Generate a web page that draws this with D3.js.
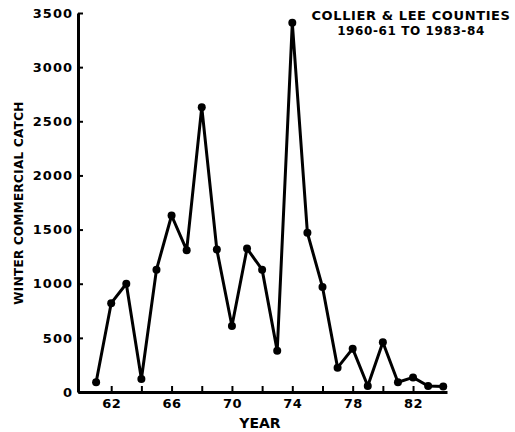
<!DOCTYPE html>
<html>
<head>
<meta charset="utf-8">
<script src="https://cdn.jsdelivr.net/npm/d3@7/dist/d3.min.js"></script>
<style>
  body { margin: 0; background: #fff; }
  svg text { font-family: "DejaVu Sans", sans-serif; font-weight: bold; fill: #000; }
</style>
</head>
<body>
<div id="chart"></div>
<script>
var width = 515,
  height = 432;

// Data (season ending year, catch)
var years = [61, 62, 63, 64, 65, 66, 67, 68, 69, 70, 71, 72, 73, 74, 75, 76, 77, 78, 79, 80, 81, 82, 83, 84];
var catches = [90, 820, 1000, 120, 1130, 1630, 1310, 2630, 1315, 610, 1325, 1130, 380, 3410, 1470, 970, 225, 400, 55, 460, 90, 135, 55, 50];
var yTicks = [0, 500, 1000, 1500, 2000, 2500, 3000, 3500];
var xTicks = [62, 64, 66, 68, 70, 72, 74, 76, 78, 80, 82];
var xLabels = [62, 66, 70, 74, 78, 82];
var titleLines = ["COLLIER & LEE COUNTIES", "1960-61 TO 1983-84"];

var x = d3.scaleLinear()
  .domain([59.8, 84.25])
  .range([78, 447]);

var y = d3.scaleLinear()
  .domain([0, 3500])
  .range([392, 13]);

var svg = d3.select("#chart")
  .append("svg")
  .attr("width", width)
  .attr("height", height);

// Y axis
var yAxis = svg.append("g")
  .attr("transform", "translate(" + x.range()[0] + ",0)")
  .call(d3.axisLeft(y).tickValues(yTicks).tickSize(-5).tickSizeOuter(0).tickPadding(5)
    .tickFormat(d3.format("d")));

// X axis
var xAxis = svg.append("g")
  .attr("transform", "translate(0," + y.range()[0] + ")")
  .call(d3.axisBottom(x).tickValues(xTicks).tickSize(-6).tickSizeOuter(0).tickPadding(7)
    .tickFormat(function (d) { return xLabels.indexOf(d) >= 0 ? d : ""; }));

svg.selectAll(".domain").attr("stroke", "#000").attr("stroke-width", 3);
svg.selectAll(".tick line").attr("stroke", "#000").attr("stroke-width", 2);
yAxis.selectAll("text").style("font-size", "13px").attr("letter-spacing", "1px");
xAxis.selectAll("text").style("font-size", "13px").attr("letter-spacing", "0.5px");

// Line and points
var line = d3.line()
  .x(function (d, i) { return x(years[i]); })
  .y(function (d) { return y(d); });

svg.append("path")
  .datum(catches)
  .attr("fill", "none")
  .attr("stroke", "#000")
  .attr("stroke-width", 3)
  .attr("stroke-linejoin", "round")
  .attr("d", line);

svg.selectAll("circle.pt")
  .data(catches)
  .enter()
  .append("circle")
  .attr("class", "pt")
  .attr("cx", function (d, i) { return x(years[i]); })
  .attr("cy", function (d) { return y(d); })
  .attr("r", 4)
  .attr("fill", "#000");

// Axis titles
svg.append("text")
  .attr("transform", "translate(23,203)rotate(-90)")
  .attr("text-anchor", "middle")
  .style("font-size", "12px")
  .attr("letter-spacing", "0.3px")
  .text("WINTER COMMERCIAL CATCH");

svg.append("text")
  .attr("x", 260)
  .attr("y", 428)
  .attr("text-anchor", "middle")
  .style("font-size", "14px")
  .text("YEAR");

// Title
svg.selectAll("text.title")
  .data(titleLines)
  .enter()
  .append("text")
  .attr("class", "title")
  .attr("x", 411)
  .attr("y", function (d, i) { return 20 + i * 15; })
  .attr("text-anchor", "middle")
  .style("font-size", function (d, i) { return i === 0 ? "13px" : "12px"; })
  .attr("letter-spacing", "0.6px")
  .text(function (d) { return d; });
</script>
</body>
</html>
